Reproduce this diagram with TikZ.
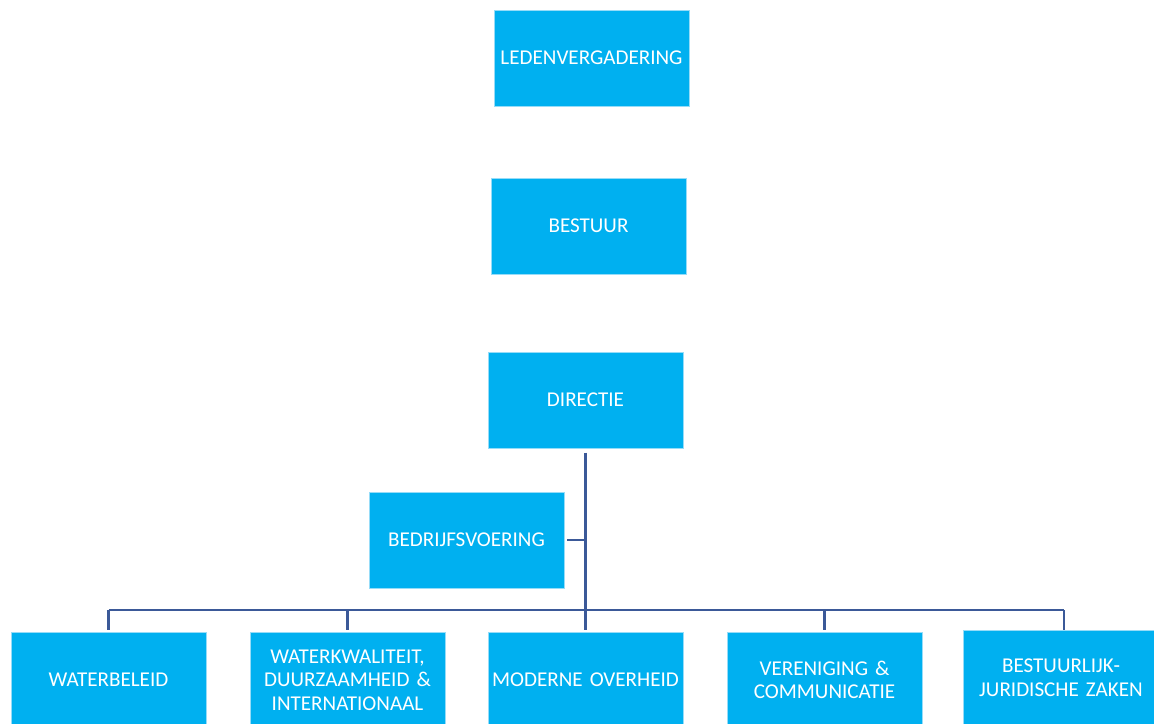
\documentclass[tikz,border=0pt]{standalone}
\usepackage{fontspec}
\setmainfont{Carlito}[WordSpace=0.85]
\usepackage{tikz}
\definecolor{boxblue}{RGB}{0,176,240}
\definecolor{boxedge}{RGB}{150,220,248}
\definecolor{linkblue}{RGB}{59,89,152}

\begin{document}
\begin{tikzpicture}[x=0.025cm,y=-0.025cm]
					\tikzstyle{unit}=[rectangle,fill=boxblue,draw=boxedge,line width=0.4pt,minimum width=4.875cm,minimum height=2.4cm,text width=4.7cm,align=center,text=white,font=\fontsize{15}{16.8}\selectfont,inner sep=2pt]
					\tikzstyle{link}=[draw=linkblue,line width=2pt]
					\useasboundingbox (0,0) rectangle (1154,723);
					\node[unit] (leden) at (591.5,58) {LEDENVERGADERING};
					\node[unit] (bestuur) at (588.5,226) {BESTUUR};
					\node[unit] (directie) at (585.5,400) {DIRECTIE};
					\node[unit] (bedrijf) at (466.5,540) {BEDRIJFSVOERING};
					\node[unit] (water) at (108.5,680) {WATERBELEID};
					\node[unit] (kwaliteit) at (347.5,680) {WATERKWALITEIT,\\DUURZAAMHEID \&\\INTERNATIONAAL};
					\node[unit] (overheid) at (585.5,680) {MODERNE OVERHEID};
					\node[unit] (vereniging) at (824.5,680) {VERENIGING \&\\COMMUNICATIE};
					\node[unit] (juridisch) at (1061,678) {BESTUURLIJK-\\JURIDISCHE ZAKEN};
					\coordinate (bus) at (586,610);
					\coordinate (busend) at (1064,610);
					\coordinate (jtop) at (1064,630);
					\draw[link,shorten <=3pt] (directie.south) -- (directie.south |- bus);
					\draw[link] (directie.south |- bus) -- ++(0,20);
					\draw[link,shorten <=2pt] (bedrijf.east) -- (bedrijf.east -| directie.south);
					\draw[link] (water.north |- bus) -- (busend);
					\draw[link] (water.north |- bus) -- ++(0,20);
					\draw[link] (kwaliteit.north |- bus) -- ++(0,20);
					\draw[link] (vereniging.north |- bus) -- ++(0,20);
					\draw[link] (busend) -- (jtop);
					\end{tikzpicture}
\end{document}
